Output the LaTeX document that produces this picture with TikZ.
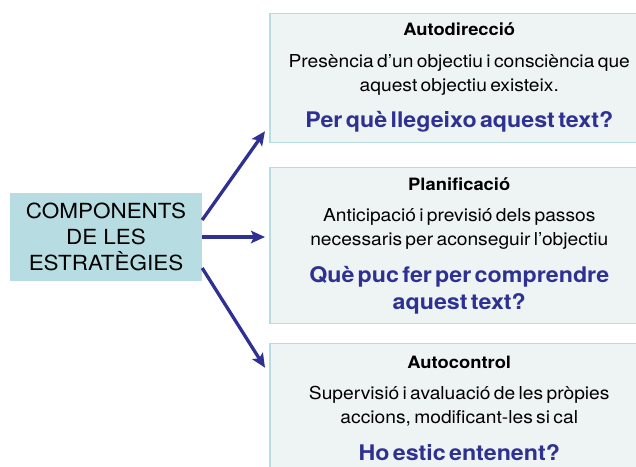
\documentclass[tikz,border=0pt]{standalone}
\usepackage{xcolor}
\usepackage{fontspec}
\setmainfont{TeX Gyre Heros}[FakeStretch=1.08]
\usepackage{tikz}
\usetikzlibrary{arrows.meta}
\usetikzlibrary{calc}
\usetikzlibrary{positioning}

\definecolor{stratblue}{HTML}{2E3192}
\definecolor{stratteal}{HTML}{B7DCE2}
\definecolor{stratpale}{HTML}{EEF3F4}

\newcommand{\stagetext}[3]{%
  {\fontsize{17}{20}\selectfont\bfseries #1\par}\vspace{8pt}%
  {\fontsize{17.8}{23.5}\selectfont #2\par}\vspace{10pt}%
  {\fontsize{21.5}{27}\selectfont\bfseries\color{stratblue}#3\par}}

\begin{document}
\begin{tikzpicture}[-,x=1pt,y=-1pt,node distance=25pt]
 				 \tikzstyle{root}=[fill=stratteal, text=black, align=center, minimum width=192pt, minimum height=88pt, inner sep=0pt, font=\fontsize{20.8}{25.7}\selectfont]
 				 \tikzstyle{stage}=[fill=stratpale, draw=stratteal, line width=1.5pt, align=center, text width=372pt, minimum width=379pt, minimum height=129pt, inner sep=3pt, anchor=north west]
 				 \tikzstyle{link}=[->, >={Stealth[length=14pt,width=12.5pt,inset=3pt]}, draw=stratblue, line width=3.3pt]
 				 \useasboundingbox (0,0) rectangle (636,466);
 					 \node[root] 			(comp) at (106,237)   		{COMPONENTS\\DE LES\\ESTRATÈGIES};
 					 \node[stage] 			(autodir) at (269,12.7)   		{\stagetext{Autodirecció}{Presència d’un objectiu i consciència que\\aquest objectiu existeix.}{Per què llegeixo aquest text?}};
 					 \node[stage, minimum height=156pt] 			(planif) [below=23.5pt of autodir]   		{\stagetext{Planificació}{Anticipació i previsió dels passos\\necessaris per aconseguir l’objectiu}{Què puc fer per comprendre\\aquest text?}};
 					 \node[stage] 			(autoctl) [below=18.5pt of planif]   		{\stagetext{Autocontrol}{Supervisió i avaluació de les pròpies\\accions, modificant-les si cal}{Ho estic entenent?}};
				\path
				([yshift=17pt]comp.east) edge [link] ([xshift=-4pt,yshift=12pt]autodir.south west)
				(comp.east) edge [link] ([xshift=-4pt]autodir.west |- comp.east)
				([yshift=-31pt]comp.east) edge [link] ([xshift=-4pt,yshift=-25pt]autoctl.north west);
\end{tikzpicture}
\end{document}
